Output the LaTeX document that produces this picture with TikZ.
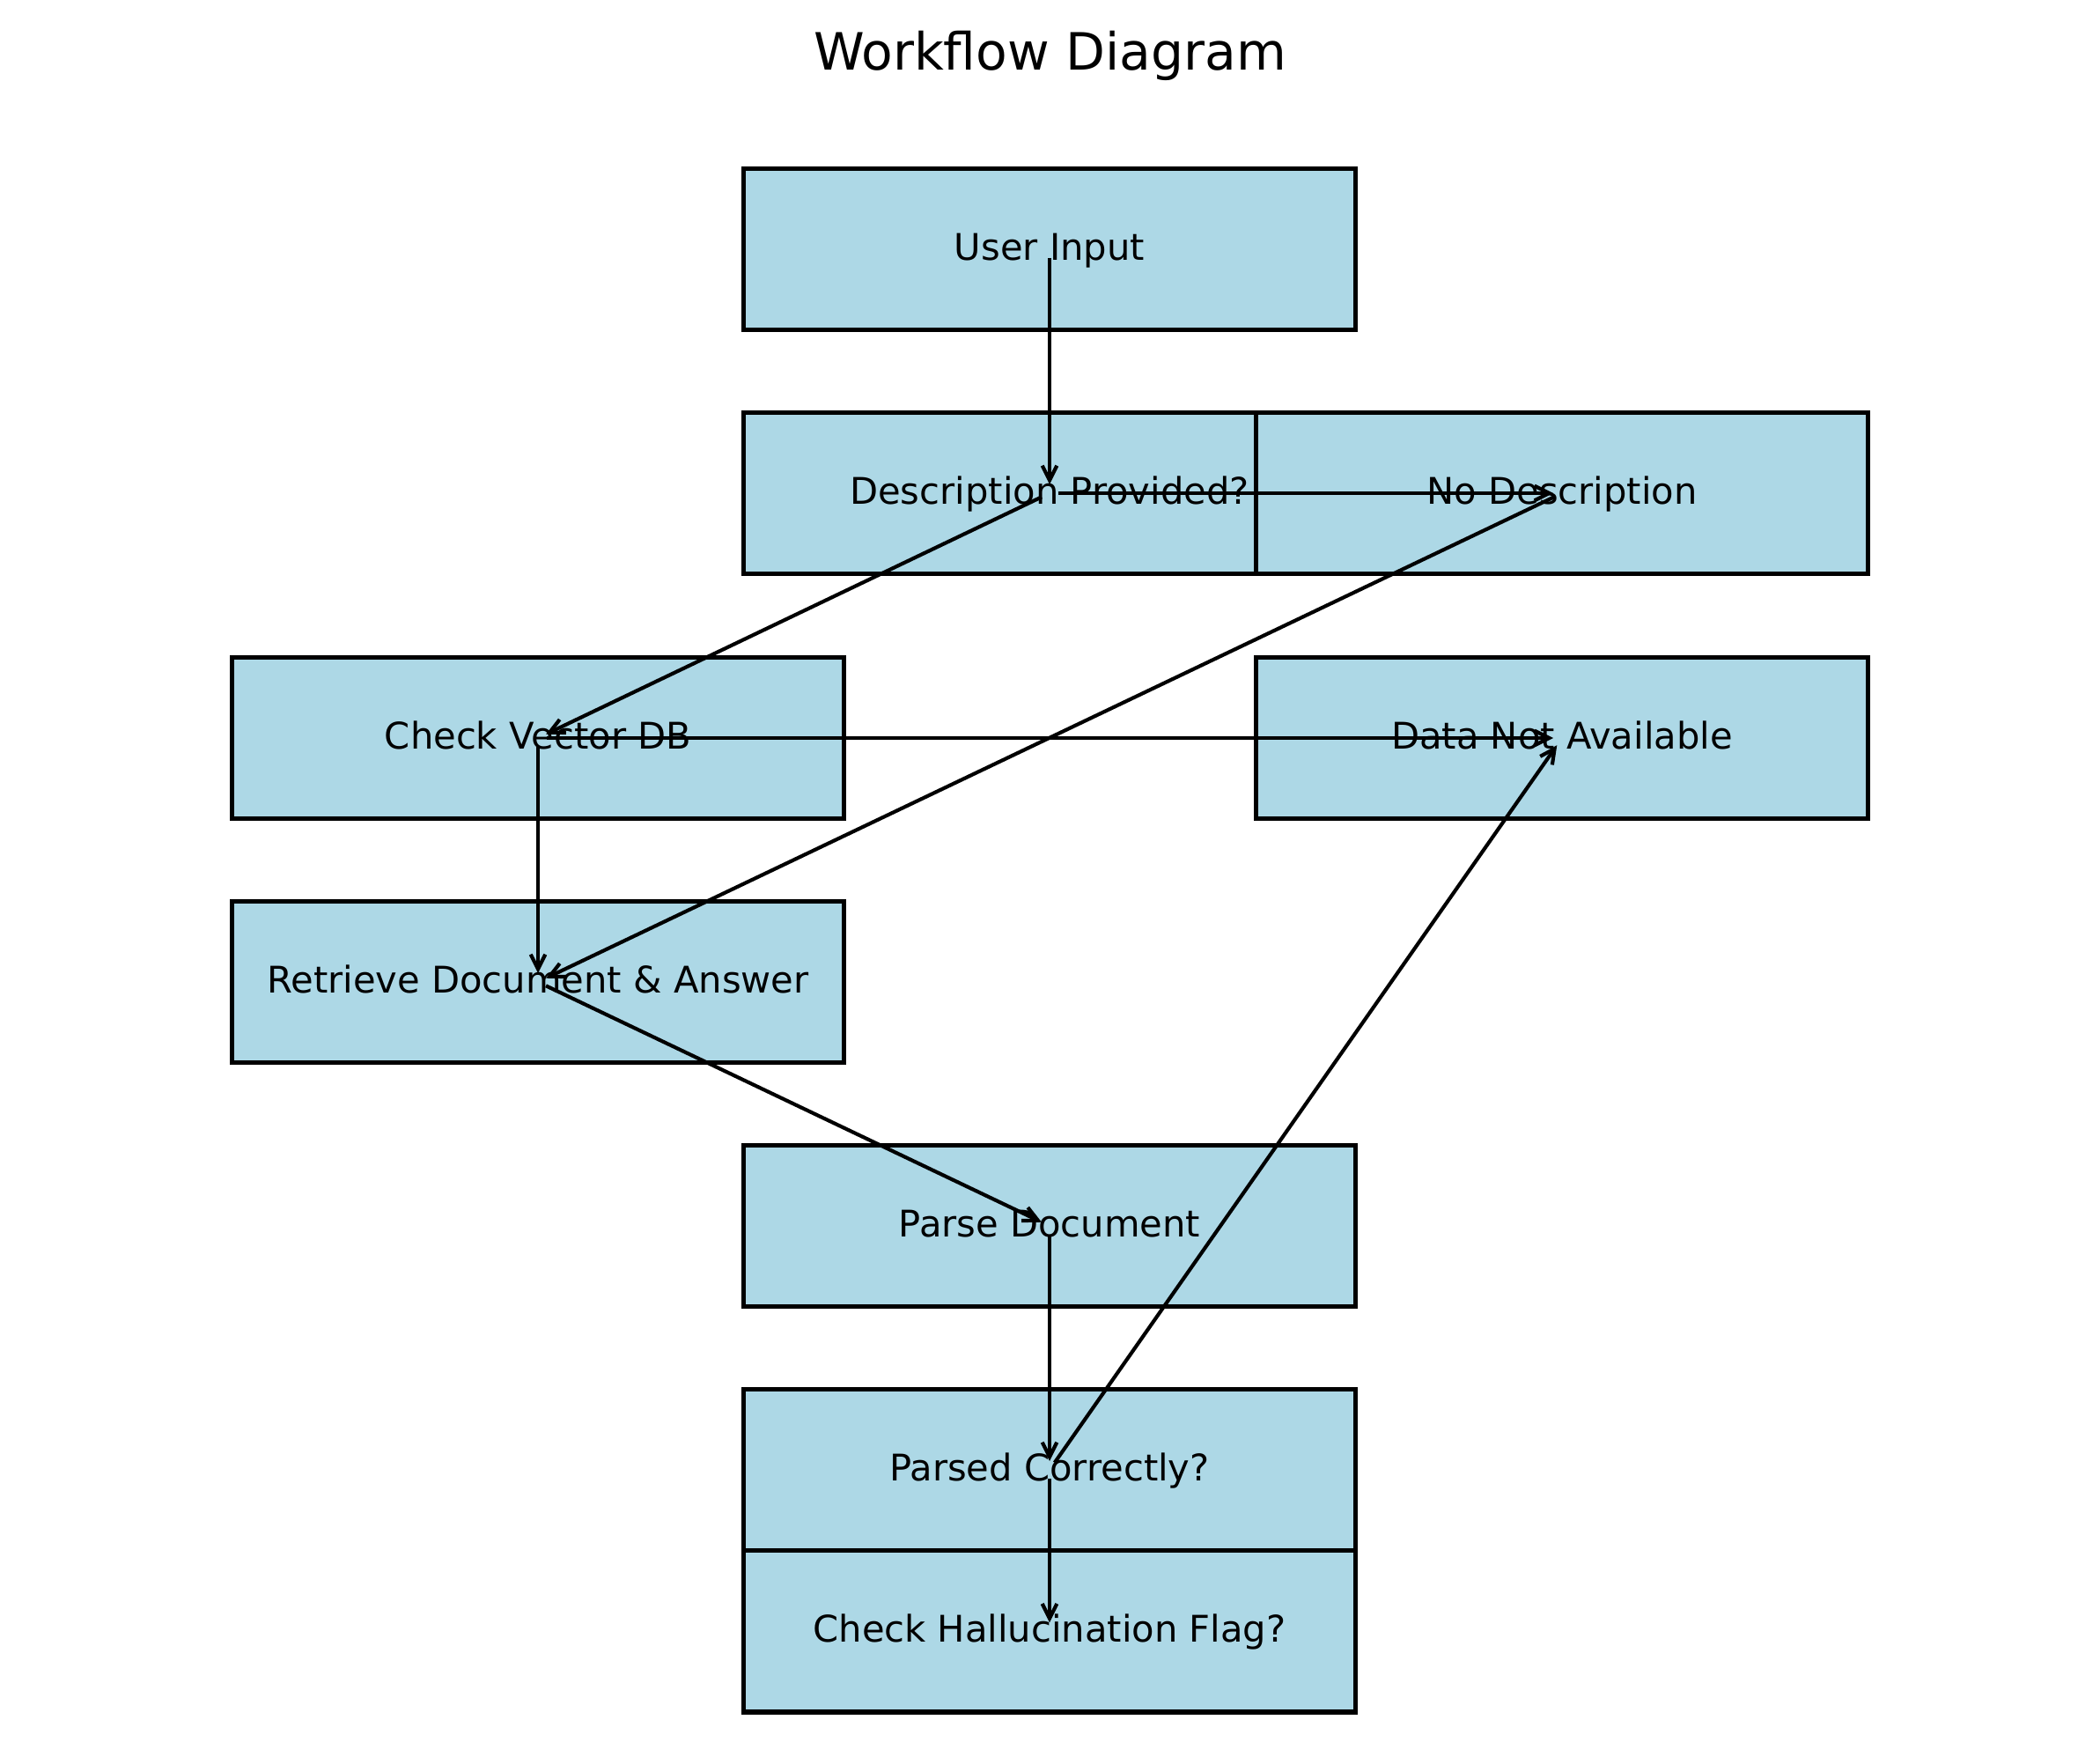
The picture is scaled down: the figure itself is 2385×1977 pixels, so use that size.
\documentclass[tikz,border=0pt]{standalone}
\usepackage{fontspec}
\setmainfont{DejaVu Sans}
\usetikzlibrary{arrows.meta}
\definecolor{boxblue}{HTML}{ADD8E6}
\begin{document}
\begin{tikzpicture}[x=0.36pt,y=-0.36pt,
  box/.style={draw=black, fill=boxblue, line width=1.9pt, minimum width=250.2pt, minimum height=66pt, inner sep=0pt,
    font=\fontsize{15}{18}\selectfont, text height=1.1em, text depth=0.2em},
  flow/.style={line width=1.5pt, -{Straight Barb[length=6pt,width=6pt]}, shorten <=3.6pt, shorten >=3.6pt},
  titletext/.style={anchor=base, inner sep=0pt, font=\fontsize{21}{25}\selectfont}]
\useasboundingbox (0,0) rectangle (2385,1977);
\node[titletext] (title) at (1192.5,80) {Workflow Diagram};
\node[box] (ui)  at (1192,283)  {User Input};
\node[box] (dp)  at (1192,560)  {Description Provided?};
\node[box] (nd)  at (1774,560)  {No Description};
\node[box] (cv)  at (611,838)   {Check Vector DB};
\node[box] (dna) at (1774,838)  {Data Not Available};
\node[box] (rd)  at (611,1115)  {Retrieve Document \& Answer};
\node[box] (pd)  at (1192,1392) {Parse Document};
\node[box] (pc)  at (1192,1669) {Parsed Correctly?};
\node[box] (ch)  at (1192,1852.3) {Check Hallucination Flag?};
\draw[flow] (ui.center) -- (dp.center);
\draw[flow] (dp.center) -- (nd.center);
\draw[flow] (dp.center) -- (cv.center);
\draw[flow] (nd.center) -- (rd.center);
\draw[flow] (cv.center) -- (dna.center);
\draw[flow] (cv.center) -- (rd.center);
\draw[flow] (rd.center) -- (pd.center);
\draw[flow] (pd.center) -- (pc.center);
\draw[flow] (pc.center) -- (dna.center);
\draw[flow] (pc.center) -- (ch.center);
\end{tikzpicture}
\end{document}
